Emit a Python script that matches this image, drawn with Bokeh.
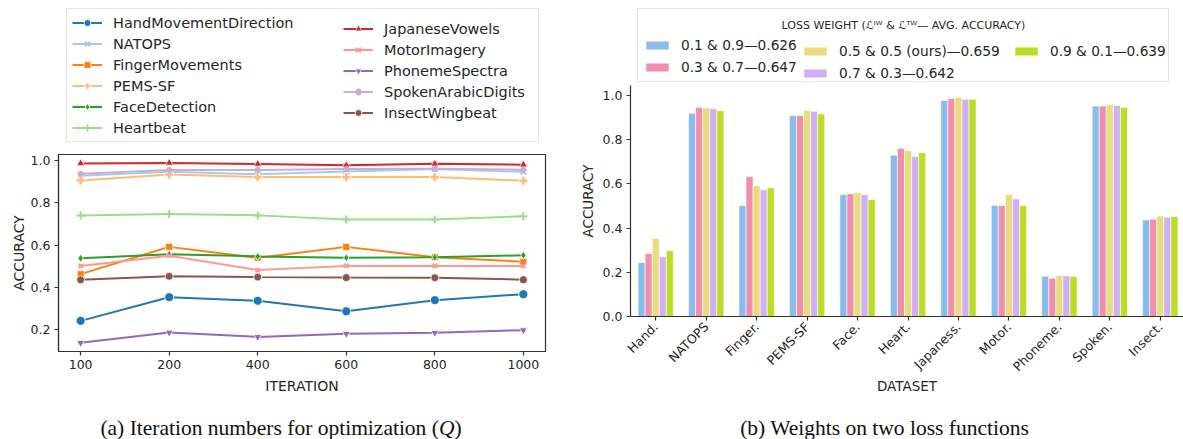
from bokeh.plotting import figure
from bokeh.models import (Legend, LegendItem, FixedTicker, Range1d, Div, Label,
                          PrintfTickFormatter)
from bokeh.layouts import column, row
from bokeh.embed import file_html
from bokeh.resources import INLINE
import math

FONT = "DejaVu Sans"
INK = "#262626"

# ---------------- data: (a) iteration numbers ----------------
iterations = ["100", "200", "400", "600", "800", "1000"]
hand = [0.242, 0.354, 0.337, 0.287, 0.340, 0.368]
natops = [0.929, 0.947, 0.935, 0.948, 0.960, 0.947]
finger = [0.463, 0.592, 0.540, 0.592, 0.543, 0.522]
pems = [0.906, 0.934, 0.922, 0.922, 0.922, 0.905]
face = [0.538, 0.557, 0.547, 0.540, 0.543, 0.552]
heart = [0.741, 0.748, 0.741, 0.722, 0.722, 0.737]
japanese = [0.987, 0.989, 0.984, 0.978, 0.985, 0.981]
motor = [0.502, 0.550, 0.482, 0.502, 0.502, 0.502]
phoneme = [0.138, 0.187, 0.166, 0.181, 0.186, 0.198]
spoken = [0.938, 0.956, 0.956, 0.960, 0.962, 0.957]
insect = [0.436, 0.453, 0.449, 0.447, 0.446, 0.437]

series_names = ["HandMovementDirection", "NATOPS", "FingerMovements", "PEMS-SF",
                "FaceDetection", "Heartbeat", "JapaneseVowels", "MotorImagery",
                "PhonemeSpectra", "SpokenArabicDigits", "InsectWingbeat"]
series_values = [hand, natops, finger, pems, face, heart, japanese, motor,
                 phoneme, spoken, insect]
series_colors = ["#1f77b4", "#aec7e8", "#ff7f0e", "#ffbb78", "#2ca02c", "#98df8a",
                 "#d62728", "#ff9896", "#9467bd", "#c5b0d5", "#8c564b"]
series_markers = ["circle", "x", "square", "plus", "diamond", "cross",
                  "triangle", "x", "inverted_triangle", "asterisk", "circle"]
series_msize = [9, 8, 7, 9, 8, 8, 8, 6, 8, 6, 8]

# ---------------- data: (b) loss weights ----------------
datasets = ["Hand.", "NATOPS", "Finger.", "PEMS-SF", "Face.", "Heart.", "Japaness.",
            "Motor.", "Phoneme.", "Spoken.", "Insect."]
w_01_09 = [0.244, 0.919, 0.502, 0.909, 0.551, 0.730, 0.977, 0.502, 0.182, 0.952, 0.437]
w_03_07 = [0.285, 0.946, 0.633, 0.909, 0.555, 0.760, 0.986, 0.502, 0.173, 0.952, 0.440]
w_05_05 = [0.353, 0.944, 0.591, 0.932, 0.560, 0.751, 0.992, 0.552, 0.186, 0.958, 0.455]
w_07_03 = [0.270, 0.940, 0.573, 0.928, 0.551, 0.724, 0.983, 0.532, 0.184, 0.955, 0.449]
w_09_01 = [0.299, 0.931, 0.582, 0.917, 0.529, 0.741, 0.983, 0.502, 0.181, 0.946, 0.452]
weight_labels = ["0.1 & 0.9\u20140.626", "0.3 & 0.7\u20140.647", "0.5 & 0.5 (ours)\u20140.659",
                 "0.7 & 0.3\u20140.642", "0.9 & 0.1\u20140.639"]
weight_values = [w_01_09, w_03_07, w_05_05, w_07_03, w_09_01]
weight_colors = ["#89bbec", "#ef8fab", "#e8dc7f", "#d0b0f2", "#bcdd27"]
legend_title = "LOSS WEIGHT (\u2112\u1d35\u1d42 & \u2112\u1d40\u1d42\u2014 AVG. ACCURACY)"


def style_axes(p, tick_size, label_size):
    for ax in (p.xaxis[0], p.yaxis[0]):
        ax.major_label_text_font = FONT
        ax.major_label_text_font_size = tick_size
        ax.major_label_text_color = INK
        ax.axis_label_text_font = FONT
        ax.axis_label_text_font_size = label_size
        ax.axis_label_text_font_style = "normal"
        ax.axis_label_text_color = INK
        ax.axis_line_color = "#333333"
        ax.axis_line_width = 1.2
        ax.major_tick_line_color = "#333333"
        ax.major_tick_line_width = 1.2
        ax.major_tick_out = 4
        ax.major_tick_in = 0
        ax.minor_tick_line_color = None
        ax.major_label_standoff = 4
        ax.axis_label_standoff = 6
    p.xgrid.grid_line_color = None
    p.ygrid.grid_line_color = None


def legend_figure(w, h, x_range):
    f = figure(width=w, height=h, output_backend="svg", toolbar_location=None,
               x_range=x_range, y_range=Range1d(0, h),
               x_axis_location=None, y_axis_location=None,
               min_border=0, min_border_left=0, min_border_right=0,
               min_border_top=0, min_border_bottom=0)
    f.xgrid.grid_line_color = None
    f.ygrid.grid_line_color = None
    f.outline_line_color = None
    f.background_fill_color = "white"
    f.border_fill_color = "white"
    # the legend samples are drawn on a range that lies outside this strip
    f.extra_x_ranges = {"hidden": Range1d(-1000, -990)}
    return f


def legend_common(lg, font_size, glyph_w, glyph_h, label_h, spacing, standoff, pad):
    lg.label_text_font = FONT
    lg.label_text_font_size = font_size
    lg.label_text_color = INK
    lg.glyph_width = glyph_w
    lg.glyph_height = glyph_h
    lg.label_height = label_h
    lg.spacing = spacing
    lg.label_standoff = standoff
    lg.padding = pad
    lg.margin = 0
    lg.background_fill_alpha = 0


xs = list(range(len(iterations)))
n = len(datasets)
LEFT_W = 567
RIGHT_W = 616

# ================= left: line chart =================
p1 = figure(width=LEFT_W, height=256, output_backend="svg", toolbar_location=None,
            x_range=Range1d(-0.25, 5.25), y_range=Range1d(0.097, 1.029),
            min_border_left=58, min_border_right=22, min_border_top=2,
            min_border_bottom=57)
p1.background_fill_color = "white"
p1.border_fill_color = "white"
p1.outline_line_color = "#333333"
p1.outline_line_width = 1.2
style_axes(p1, "12.5px", "14px")
p1.yaxis.axis_label_standoff = 1
p1.xaxis.ticker = FixedTicker(ticks=xs)
p1.xaxis.major_label_overrides = {i: s for i, s in enumerate(iterations)}
p1.yaxis.ticker = FixedTicker(ticks=[0.2, 0.4, 0.6, 0.8, 1.0])
p1.yaxis.formatter = PrintfTickFormatter(format="%.1f")
p1.xaxis.axis_label = "ITERATION"
p1.yaxis.axis_label = "ACCURACY"

for vals, col, mk, ms in zip(series_values, series_colors, series_markers, series_msize):
    p1.line(xs, vals, line_color=col, line_width=2)
    if mk in ("x", "cross", "asterisk"):
        p1.scatter(xs, vals, marker=mk, size=ms, line_color=col, line_width=2,
                   fill_color=col)
    else:
        p1.scatter(xs, vals, marker=mk, size=ms, fill_color=col,
                   line_color="white", line_width=0.8)

# ================= left: legend strip (frame aligns with p1's frame) =================
lf1 = legend_figure(LEFT_W, 152, Range1d(0, 487))
items = []
for name, vals, col, mk, ms in zip(series_names, series_values, series_colors,
                                   series_markers, series_msize):
    lr = lf1.line(xs, vals, line_color=col, line_width=2, x_range_name="hidden")
    if mk in ("x", "cross", "asterisk"):
        sr = lf1.scatter(xs, vals, marker=mk, size=ms, line_color=col, line_width=2,
                         fill_color=col, x_range_name="hidden")
    else:
        sr = lf1.scatter(xs, vals, marker=mk, size=ms, fill_color=col,
                         line_color="white", line_width=0.8, x_range_name="hidden")
    items.append(LegendItem(label=name, renderers=[lr, sr]))

legA = Legend(items=items[:6], location=(8, 10))
legend_common(legA, "14.5px", 30, 17, 17, 4, 11, 5)
legA.label_width = 420
legA.border_line_color = "#cccccc"
legA.border_line_width = 1
legB = Legend(items=items[6:], location=(285, 31))
legend_common(legB, "14.5px", 30, 17, 17, 4, 11, 5)
legB.border_line_color = None
lf1.add_layout(legA, "center")
lf1.add_layout(legB, "center")

cap_base = {"font-family": "Liberation Serif", "font-size": "21.5px", "color": "#111111",
            "text-align": "center", "line-height": "25px", "padding-top": "8px",
            "padding-left": "17px", "white-space": "nowrap"}
cap_a = Div(text="(a) Iteration numbers for optimization (<i>Q</i>)", width=545, height=31,
            margin=(0, 22, 0, 0), styles=dict(cap_base))

# ================= right: bar chart =================
bar_w = 0.14
p2 = figure(width=RIGHT_W, height=323, output_backend="svg", toolbar_location=None,
            x_range=Range1d(-0.5, 10.46), y_range=Range1d(0, 1.045),
            min_border_left=63, min_border_right=0, min_border_top=0,
            min_border_bottom=92)
p2.background_fill_color = "white"
p2.border_fill_color = "white"
p2.outline_line_color = None
style_axes(p2, "12.5px", "13.5px")
p2.yaxis.axis_label_standoff = 4
p2.xaxis.ticker = FixedTicker(ticks=list(range(n)))
p2.xaxis.major_label_overrides = {i: s for i, s in enumerate(datasets)}
p2.xaxis.major_label_orientation = math.pi / 4
p2.yaxis.ticker = FixedTicker(ticks=[0.0, 0.2, 0.4, 0.6, 0.8, 1.0])
p2.yaxis.formatter = PrintfTickFormatter(format="%.1f")
p2.xaxis.axis_label = "DATASET"
p2.yaxis.axis_label = "ACCURACY"
p2.xaxis.axis_label_standoff = -4

for k, (vals, col) in enumerate(zip(weight_values, weight_colors)):
    off = (k - 2) * bar_w
    p2.vbar(x=[i + off for i in range(n)], top=vals, width=bar_w, bottom=0,
            fill_color=col, line_color="white", line_width=0.6)

# ================= right: legend strip (shares p2's x scale) =================
lf2 = legend_figure(RIGHT_W, 85, p2.x_range)
bar_items = []
for lab, vals, col in zip(weight_labels, weight_values, weight_colors):
    r = lf2.vbar(x=list(range(n)), top=vals, width=0.5, fill_color=col, line_color=None,
                 x_range_name="hidden")
    bar_items.append(LegendItem(label=lab, renderers=[r]))


def bar_legend(its, loc, main):
    lg = Legend(items=its, location=loc)
    legend_common(lg, "13.7px", 28, 10, 18, 4, 10, 5)
    if main:
        lg.title = legend_title
        lg.title_text_font = FONT
        lg.title_text_font_size = "11px"
        lg.title_text_alpha = 0
        lg.title_standoff = 9
        lg.border_line_color = "#cccccc"
        lg.border_line_width = 1
        lg.label_width = 482
    else:
        lg.border_line_color = None
    return lg


rA = bar_legend(bar_items[0:2], (7, 3), True)
rB = bar_legend(bar_items[2:4], (171, 3), False)
rC = bar_legend(bar_items[4:5], (382, 25), False)
for lg in (rA, rB, rC):
    lf2.add_layout(lg, "center")
lf2.add_layout(Label(x=4.91, y=59.6, text=legend_title, text_font=FONT,
                     text_font_size="11px", text_color=INK, text_align="center",
                     text_baseline="middle"))

cap_b = Div(text="(b) Weights on two loss functions", width=598, height=31,
            margin=(0, 0, 0, 10), styles=dict(cap_base))

left = column(lf1, p1, cap_a, spacing=0)
right = column(lf2, p2, cap_b, spacing=0)
layout = row(left, right, spacing=0)

open("out.html", "w").write(file_html(layout, INLINE))
